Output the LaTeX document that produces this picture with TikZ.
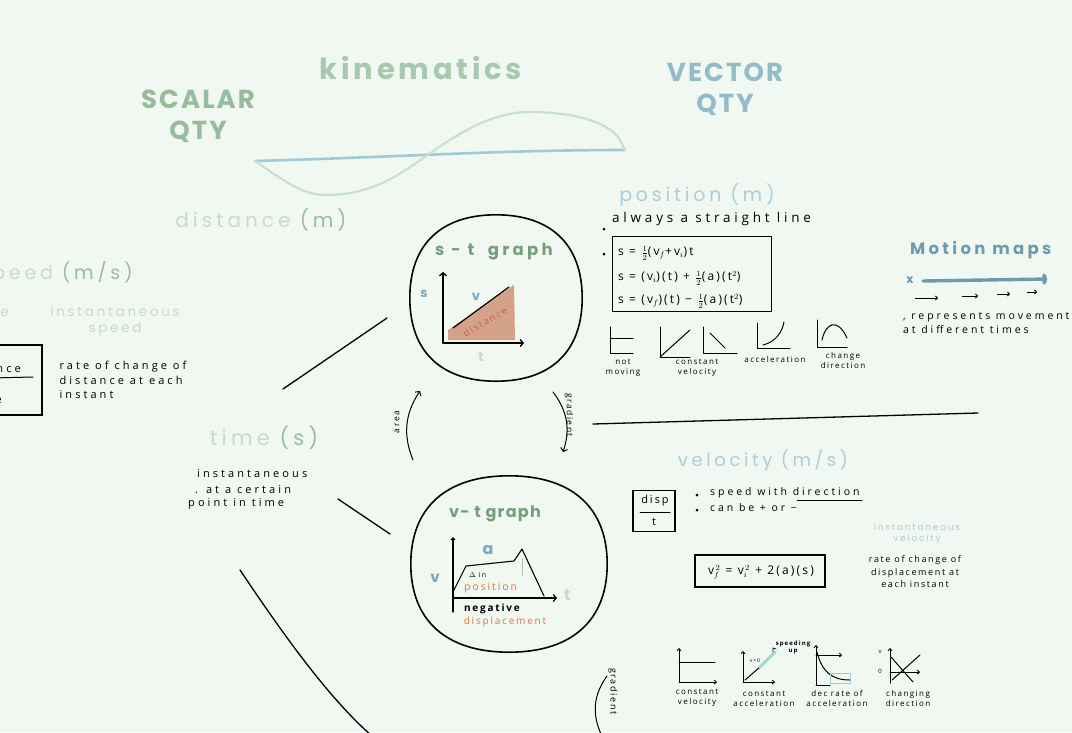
\documentclass[tikz,border=0pt]{standalone}
\usepackage{fontspec}
\setmainfont{Open Sans}
\newfontfamily\hand[LetterSpace=18]{Open Sans}
\newfontfamily\handw[LetterSpace=28]{Open Sans}
\newfontfamily\rnd[LetterSpace=20]{Poppins}
\newfontfamily\rndt[LetterSpace=8]{Poppins}
\newfontfamily\rndk[LetterSpace=13]{Poppins}
\usetikzlibrary{arrows.meta,calc}
\definecolor{bg}{RGB}{241,247,241}
\definecolor{sgreen}{RGB}{150,188,155}
\definecolor{kgreen}{RGB}{168,200,176}
\definecolor{vblue}{RGB}{147,188,200}
\definecolor{pblue}{RGB}{170,206,220}
\definecolor{pgreen}{RGB}{197,221,201}
\definecolor{mgreen}{RGB}{152,190,160}
\definecolor{lineblue}{RGB}{160,202,218}
\definecolor{curvegreen}{RGB}{200,225,205}
\definecolor{fillbrown}{RGB}{212,162,138}
\definecolor{rust}{RGB}{192,98,72}
\definecolor{orng}{RGB}{232,118,50}
\definecolor{mblue}{RGB}{110,155,172}
\definecolor{tealc}{RGB}{165,215,215}
\definecolor{gtit}{RGB}{118,160,124}
\definecolor{gblue}{RGB}{120,170,195}
\newcommand\mybubble[1]{%
  \draw[line width=1.6pt, line join=round] (#1.north)
   .. controls ($(#1.north)!0.64!(#1.north east)$) and ($(#1.east)!0.64!(#1.north east)$) .. (#1.east)
   .. controls ($(#1.east)!0.64!(#1.south east)$) and ($(#1.south)!0.64!(#1.south east)$) .. (#1.south)
   .. controls ($(#1.south)!0.64!(#1.south west)$) and ($(#1.west)!0.64!(#1.south west)$) .. (#1.west)
   .. controls ($(#1.west)!0.64!(#1.north west)$) and ($(#1.north)!0.64!(#1.north west)$) .. (#1.north) -- cycle;}
\tikzset{
 txt/.style={inner sep=0pt},
 note/.style={txt, font=\handw\fontsize{11}{14.5}\selectfont, align=left},
 notebig/.style={txt, font=\handw\fontsize{13.5}{16}\selectfont, align=left},
 tiny/.style={txt, font=\hand\fontsize{8}{10}\selectfont, align=center},
 title/.style={txt, font=\rndt\bfseries\fontsize{26}{31}\selectfont, align=center},
 sub/.style={txt, font=\rnd\fontsize{19}{23}\selectfont},
 soft/.style={txt, font=\rnd\fontsize{13.5}{16}\selectfont, align=center},
 gtitle/.style={txt, font=\rnd\bfseries\fontsize{16.5}{18}\selectfont, text=gtit},
 bubble/.style={inner sep=0pt},
 ink/.style={line width=1pt, line cap=round, line join=round},
 conn/.style={line width=1.3pt, line cap=round},
 hook/.style={-{Straight Barb[length=2pt,width=4pt]}},
 bul/.style={circle, fill=black, inner sep=0pt, minimum size=3pt},
}
\begin{document}
\begin{tikzpicture}[x=1pt,y=-1pt]
\fill[bg] (0,0) rectangle (1072,732);
\useasboundingbox (0,0) rectangle (1072,732);

% ---------- titles ----------
\node[title, text=sgreen] (scalar) at (198,116) {SCALAR\\QTY};
\node[title, text=kgreen, font=\rndk\bfseries\fontsize{29}{34}\selectfont] (kin) at (421,68) {kinematics};
\node[title, text=vblue] (vector) at (725,89) {VECTOR\\QTY};

\coordinate (bl1) at (255,161);
\coordinate (bl2) at (625,150);
\draw[lineblue, line width=2.6pt, line cap=round] (bl1) .. controls (400,157) and (500,150) .. (bl2);
\draw[curvegreen, line width=2.2pt, line cap=round] (bl1) .. controls (290,185) and (305,196) .. (330,195)
  .. controls (380,193) and (405,170) .. (432,152) .. controls (470,125) and (500,112) .. (530,112)
  .. controls (580,112) and (612,125) .. (620,140) -- (bl2);

% ---------- scalar side ----------
\node[sub, text=pgreen, font=\rnd\fontsize{20}{24}\selectfont] (dist) at (261,220) {distance \textcolor{mgreen}{(m)}};
\node[sub, text=pgreen, anchor=east] (speed) at (133,273) {speed \textcolor{mgreen}{(m/s)}};
\node[soft, text=pgreen, anchor=east] (avg) at (9,315) {average};
\node[soft, text=pgreen] (inst) at (115,321) {instantaneous\\speed};
\node[draw, line width=1.2pt, minimum width=80pt, minimum height=70pt] (dbox) at (2,380) {};
\node[note, anchor=east] (dnum) at (21,368) {distance};
\draw[ink] (-10,378) -- (33,377);
\node[note, anchor=east] (dden) at (2,400) {time};
\node[note] (rate1) at (123,380) {rate of change of\\distance at each\\instant};

\node[sub, text=pgreen, font=\rnd\fontsize{21}{24}\selectfont] (time) at (264,438) {time \textcolor{mgreen}{(s)}};
\node[note, anchor=west] (ti1) at (197,474) {instantaneous};
\node[note, anchor=west] (ti2) at (195,490) {. at a certain};
\node[note, anchor=west] (ti3) at (188,504) {point in time};

\coordinate (c1a) at (283,389); \coordinate (c1b) at (387,318);
\coordinate (c2a) at (338,499); \coordinate (c2b) at (390,534);
\coordinate (c3a) at (240,570); \coordinate (c3b) at (372,736);
\draw[conn] (c1a) -- (c1b);
\draw[conn] (c2a) -- (c2b);
\draw[conn] (c3a) .. controls (275,622) and (325,695) .. (c3b);

% ---------- s-t graph ----------
\node[bubble, minimum width=172pt, minimum height=166pt] (st) at (496,298) {};
\mybubble{st}
\node[gtitle] (sttitle) at (494,252) {s - t \ graph};
\fill[fillbrown] (448,330) -- (514,285) -- (515,340) -- (448,340) -- cycle;
\draw[ink, line width=1.3pt, -{Straight Barb[length=3pt,width=7pt]}] (443,343) -- (443,272);
\draw[ink, line width=1.3pt, -{Straight Barb[length=3pt,width=7pt]}] (443,343) -- (524,343);
\draw[ink, line width=1.2pt] (453,328) -- (509,287);
\node[txt, text=gblue, font=\rnd\bfseries\fontsize{13}{15}\selectfont] (stv) at (476,297) {v};
\node[txt, text=rust, font=\hand\fontsize{9.5}{11}\selectfont, rotate=30] (stdist) at (485,322) {distance};
\node[txt, text=gblue, font=\rnd\bfseries\fontsize{13}{15}\selectfont] (sts) at (424,294) {s};
\node[txt, text=pgreen, font=\rnd\bfseries\fontsize{13}{15}\selectfont] (stt) at (481,357) {t};

% ---------- area / gradient ----------
\coordinate (ar1) at (413,460); \coordinate (ar2) at (420,391);
\draw[ink, -{Straight Barb[length=3pt,width=7pt]}] (ar1) to[bend left=28] (ar2);
\node[txt, font=\hand\fontsize{8.5}{10}\selectfont, rotate=90] (arealbl) at (397,422) {area};
\coordinate (gr1) at (553,392); \coordinate (gr2) at (563,452);
\draw[ink, -{Straight Barb[length=3pt,width=7pt]}] (gr1) to[bend left=28] (gr2);
\node[txt, font=\hand\fontsize{8.5}{10}\selectfont, rotate=-90] (gradlbl) at (569,415) {gradient};

% ---------- v-t graph ----------
\node[bubble, minimum width=196pt, minimum height=176pt] (vt) at (509,564) {};
\mybubble{vt}
\node[gtitle, font=\rndt\bfseries\fontsize{16}{18}\selectfont] (vttitle) at (495,514) {v- t graph};
\draw[ink, line width=1.2pt, hook] (453,612) -- (453,537);
\draw[ink, line width=1.2pt, -{Straight Barb[length=3pt,width=7pt]}] (453,598) -- (557,598);
\draw[ink, line width=1.1pt] (454,590) -- (466,566) -- (514,561) -- (522,549) -- (544,596);
\draw[gray!55, line width=1pt] (522,558) -- (522,576);
\node[txt, text=gblue, font=\rnd\bfseries\fontsize{16}{18}\selectfont] (vta) at (488,550) {a};
\node[txt, font=\hand\fontsize{7}{8}\selectfont, anchor=west] (vtdelta) at (469,575) {$\Delta$ in};
\node[txt, text=orng, font=\hand\fontsize{10.5}{12}\selectfont, anchor=west] (vtpos) at (464,588) {position};
\node[txt, text=gblue, font=\rnd\bfseries\fontsize{15}{17}\selectfont] (vtv) at (435,578) {v};
\node[txt, text=pgreen, font=\rnd\bfseries\fontsize{16}{18}\selectfont] (vtt) at (567,595) {t};
\node[txt, font=\hand\bfseries\fontsize{10}{12}\selectfont] (vtneg) at (492,609) {negative};
\node[txt, text=orng, font=\hand\fontsize{10}{12}\selectfont] (vtdisp) at (505,622) {displacement};

% ---------- position ----------
\node[sub, text=pblue] (pos) at (697,195) {position (m)};
\node[bul] (b1) at (604,229) {};
\node[notebig, anchor=west] (pos1) at (612,219) {always a straight line};
\node[bul] (b2) at (604,254) {};
\node[draw, line width=1.6pt, minimum width=159pt, minimum height=75pt] (fbox) at (692,274) {};
\node[note, anchor=west, font=\hand\fontsize{12}{14}\selectfont] (f1) at (618,253) {s = $\frac{1}{2}$(v$_f$+v$_i$)t};
\node[note, anchor=west, font=\hand\fontsize{12}{14}\selectfont] (f2) at (618,278) {s = (v$_i$)(t) + $\frac{1}{2}$(a)(t$^2$)};
\node[note, anchor=west, font=\hand\fontsize{12}{14}\selectfont] (f3) at (618,301) {s = (v$_f$)(t) − $\frac{1}{2}$(a)(t$^2$)};

% small s-t graphs
\draw[ink] (610,327) -- (610,353) -- (633,353); \draw[ink] (610,338) -- (633,338);
\node[tiny] (lnm) at (623,368) {not\\moving};
\draw[ink] (660,327) -- (660,357) -- (690,357); \draw[ink] (660,357) -- (690,330);
\draw[ink] (703,327) -- (703,353) -- (737,353); \draw[ink] (710,333) -- (725,348);
\node[tiny] (lcv) at (697,368) {constant\\velocity};
\draw[ink] (757,323) -- (757,348) -- (790,348); \draw[ink] (763,345) .. controls (775,342) and (782,333) .. (784,322);
\node[tiny] (lacc) at (775,359) {acceleration};
\draw[ink] (817,320) -- (817,347) -- (847,347); \draw[ink] (822,340) .. controls (826,322) and (838,318) .. (847,338);
\node[tiny] (lcd) at (843,360) {change\\direction};

% ---------- motion maps ----------
\node[txt, text=mblue, font=\rnd\bfseries\fontsize{16.5}{19}\selectfont, anchor=west] (mm) at (910,250) {Motion maps};
\node[txt, text=mblue, font=\rnd\bfseries\fontsize{12}{12}\selectfont] (mx) at (910,280) {x};
\coordinate (ma1) at (923,281); \coordinate (ma2) at (1047,279);
\draw[mblue, line width=3.4pt, line cap=round, -{Arc Barb[length=4pt,width=12pt]}] (ma1) -- (ma2);
\foreach \a/\b/\y in {915/938/298, 962/978/296, 997/1010/294, 1027/1037/292}
  \draw[line width=0.8pt, -{Straight Barb[length=2pt,width=4pt]}] (\a,\y) -- (\b,\y);
\node[note, anchor=west, font=\handw\fontsize{10.5}{14}\selectfont] (mm1) at (903,323) {, represents movement\\at different times};

% ---------- velocity ----------
\node[sub, text=pblue, font=\rnd\fontsize{18}{22}\selectfont] (vel) at (763,460) {velocity (m/s)};
\node[draw, line width=1.6pt, minimum width=42pt, minimum height=41pt] (vbox) at (654,511) {};
\node[note, font=\hand\fontsize{11}{13}\selectfont] (vnum) at (655,501) {disp};
\draw[ink] (640,512) -- (670,512);
\node[note, font=\hand\fontsize{11}{13}\selectfont] (vden) at (654,522) {t};
\node[bul] (vb1) at (697,495) {};
\node[note, anchor=west, font=\handw\fontsize{10.5}{13}\selectfont] (v1) at (710,493) {speed with direction};
\draw[ink] (797,500) -- (862,500);
\node[bul] (vb2) at (697,510) {};
\node[note, anchor=west, font=\handw\fontsize{10.5}{13}\selectfont] (v2) at (710,508) {can be + or −};
\node[soft, text=pblue, font=\rnd\fontsize{9}{11}\selectfont] (ivel) at (917,534) {instantaneous\\velocity};
\node[draw, line width=1.6pt, minimum width=130pt, minimum height=32pt] (vfbox) at (760,571) {};
\node[note, font=\hand\fontsize{12}{14}\selectfont] (vf) at (761,572) {v$_f^{\,2}$ = v$_i^{\,2}$ + 2(a)(s)};
\node[note, align=center, font=\hand\fontsize{9}{12.5}\selectfont] (rate2) at (915,572) {rate of change of\\displacement at\\each instant};

% small v-t graphs
\draw[ink, hook] (679,682) -- (679,648); \draw[ink, hook] (679,682) -- (717,682); \draw[ink] (679,662) -- (715,662);
\node[tiny] (bcv) at (697,698) {constant\\velocity};
\draw[ink, hook] (743,682) -- (743,651); \draw[ink, hook] (743,682) -- (775,682);
\draw[ink] (745,680) -- (760,667);
\draw[tealc, line width=3pt, line cap=round] (760,667) -- (775,652);
\draw[ink, line width=0.7pt] (773,652) -- (773,648) -- (776,649);
\node[txt, font=\hand\fontsize{5}{6}\selectfont] (vg0) at (755,661) {v>0};
\node[tiny, font=\hand\bfseries\fontsize{6}{7}\selectfont] (spd) at (793,647) {speeding\\up};
\node[tiny] (bca) at (764,699) {constant\\acceleration};
\draw[ink, hook] (816,685) -- (816,645); \draw[ink] (816,685) -- (830,685);
\draw[ink] (817,652) .. controls (822,672) and (832,680) .. (850,680);
\draw[ink, hook] (816,655) -- (842,655);
\draw[lineblue, line width=0.9pt] (830,673) rectangle (850,683);
\node[tiny] (bdr) at (837,698) {dec rate of\\acceleration};
\draw[ink, hook] (890,683) -- (890,648); \draw[ink, hook] (890,672) -- (920,672);
\draw[ink] (891,657) -- (913,682); \draw[ink] (892,680) -- (920,655);
\node[txt, font=\hand\fontsize{6}{7}\selectfont] (bv) at (880,652) {v};
\node[txt, font=\hand\fontsize{6}{7}\selectfont] (b0) at (880,671) {0};
\node[tiny] (bcd) at (908,698) {changing\\direction};

% bottom gradient
\coordinate (bg1) at (607,676); \coordinate (bg2) at (601,734);
\draw[ink] (bg1) to[bend right=30] (bg2);
\node[txt, font=\hand\fontsize{9}{10}\selectfont, rotate=-90, anchor=west] (bgrad) at (613,668) {gradient};

% divider
\coordinate (d1) at (593,424); \coordinate (d2) at (978,413);
\draw[conn] (d1) -- (d2);
\end{tikzpicture}
\end{document}
